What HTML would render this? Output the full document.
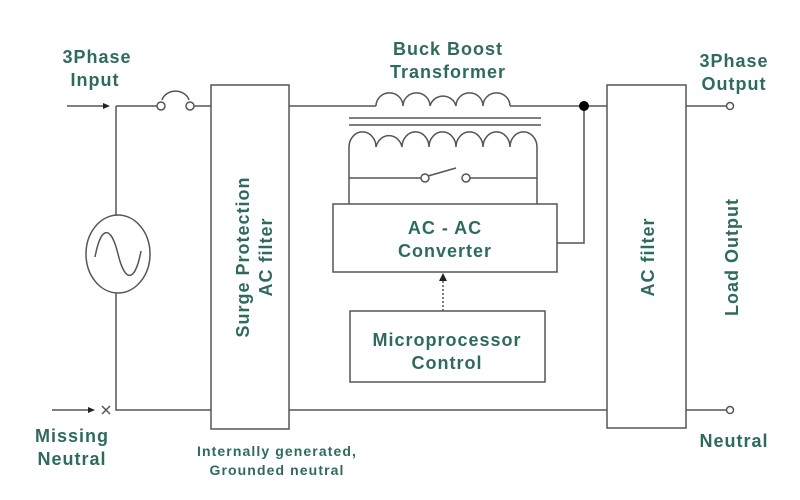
<!DOCTYPE html>
<html><head><meta charset="utf-8"><style>
html,body{margin:0;padding:0;background:#fff;}
svg{display:block;}
text{font-family:"Liberation Sans",sans-serif;fill:#2e6b5e;font-weight:bold;}
</style></head><body>
<svg width="800" height="500" viewBox="0 0 800 500" xmlns="http://www.w3.org/2000/svg">
<g stroke="#555" stroke-width="1.5" fill="none">
<line x1="67" y1="106" x2="106" y2="106"/>
<polygon points="110,106 103,103 103,109" fill="#222" stroke="none"/>
<polyline points="116,106 116,216"/>
<line x1="116" y1="106" x2="157" y2="106"/>
<circle cx="161" cy="106" r="4" fill="#fff"/>
<circle cx="190" cy="106" r="4" fill="#fff"/>
<path d="M162,100 A14,12 0 0 1 189,100"/>
<line x1="194" y1="106" x2="211" y2="106"/>
<ellipse cx="118" cy="254" rx="32" ry="39"/>
<path d="M95,257 C101,225 111,225 118,254 C125,283 135,283 141,251"/>
<polyline points="116,293 116,410 211,410"/>
<line x1="52" y1="410" x2="90" y2="410"/>
<polygon points="95,410 88,407 88,413" fill="#222" stroke="none"/>
<line x1="102" y1="406" x2="110" y2="414"/><line x1="110" y1="406" x2="102" y2="414"/>
<rect x="211" y="85" width="78" height="344"/>
<line x1="289" y1="106" x2="376" y2="106"/>
<path d="M376,106 A13.4,13 0 0 1 403,106 A13.4,13 0 0 1 430,106 A13.4,13 0 0 1 456,106 A13.4,13 0 0 1 483,106 A13.4,13 0 0 1 510,106"/>
<line x1="510" y1="106" x2="607" y2="106"/>
<line x1="349" y1="118" x2="541" y2="118"/>
<line x1="349" y1="125" x2="541" y2="125"/>
<path d="M349,204 L349,147 A13.4,15 0 0 1 376,147 A13.4,15 0 0 1 402,147 A13.4,15 0 0 1 429,147 A13.4,15 0 0 1 456,147 A13.4,15 0 0 1 483,147 A13.4,15 0 0 1 510,147 A13.4,15 0 0 1 537,147 L537,204"/>
<line x1="349" y1="178" x2="421" y2="178"/>
<line x1="470" y1="178" x2="537" y2="178"/>
<line x1="428" y1="176" x2="456" y2="168"/>
<circle cx="425" cy="178" r="4" fill="#fff"/>
<circle cx="466" cy="178" r="4" fill="#fff"/>
<rect x="333" y="204" width="224" height="68"/>
<polyline points="584,106 584,243 557,243"/>
<rect x="350" y="311" width="195" height="71"/>
<line x1="443" y1="311" x2="443" y2="280" stroke-dasharray="2,2"/>
<polygon points="443,273 439,281 447,281" fill="#222" stroke="none"/>
<line x1="289" y1="410" x2="607" y2="410"/>
<rect x="607" y="85" width="79" height="343"/>
<line x1="686" y1="106" x2="726" y2="106"/>
<line x1="686" y1="410" x2="726" y2="410"/>
<circle cx="730" cy="106" r="3.5" fill="#fff"/>
<circle cx="730" cy="410" r="3.5" fill="#fff"/>
</g>
<circle cx="584" cy="106" r="5" fill="#000"/>
<g font-size="18" text-anchor="middle" letter-spacing="1">
<text x="97" y="63">3Phase</text><text x="95" y="86">Input</text>
<text x="448" y="55">Buck Boost</text><text x="448" y="78">Transformer</text>
<text x="734" y="67">3Phase</text><text x="734" y="90">Output</text>
<text x="72" y="442">Missing</text><text x="72" y="465">Neutral</text>
<text x="734" y="447">Neutral</text>
<text x="445" y="234">AC - AC</text><text x="445" y="257">Converter</text>
<text x="447" y="346">Microprocessor</text><text x="447" y="369">Control</text>
<text transform="translate(249,257) rotate(-90)">Surge Protection</text>
<text transform="translate(272,257) rotate(-90)">AC filter</text>
<text transform="translate(654,257) rotate(-90)">AC filter</text>
<text transform="translate(738,257) rotate(-90)">Load Output</text>
</g>
<g font-size="14" text-anchor="middle" letter-spacing="1.1">
<text x="277" y="456">Internally generated,</text>
<text x="277" y="475">Grounded neutral</text>
</g>
</svg>
</body></html>
